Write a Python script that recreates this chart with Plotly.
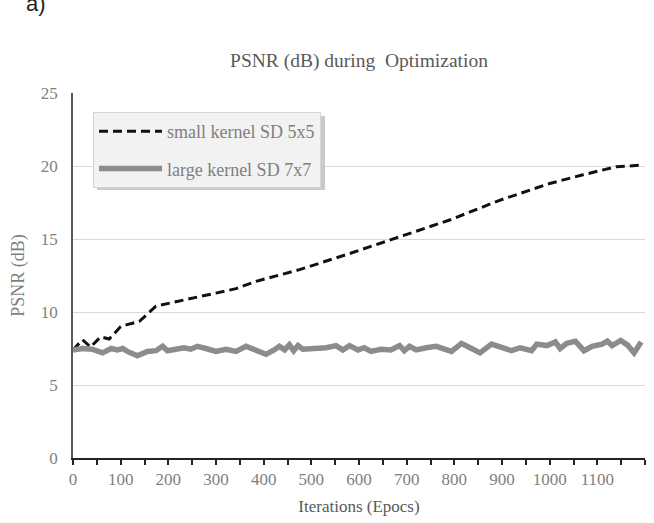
import plotly.graph_objects as go

# ---- data ----
small_x = [0, 20, 37, 58, 76, 100, 121, 139, 174, 216, 258, 300, 342, 384,
           475, 580, 685, 790, 895, 965, 1000, 1070, 1140, 1190]
small_y = [7.4, 8.1, 7.6, 8.3, 8.15, 9.0, 9.2, 9.35, 10.4, 10.7, 10.95, 11.3, 11.6, 12.1,
           12.9, 14.0, 15.15, 16.3, 17.65, 18.45, 18.8, 19.4, 19.95, 20.05]

large_x = [0, 20, 40, 62, 80, 93, 104, 114, 135, 156, 174, 188, 198, 216, 233, 247,
           261, 279, 300, 321, 342, 363, 384, 405, 422, 433, 444, 454, 463, 472,
           482, 503, 531, 552, 566, 580, 598, 611, 625, 646, 667, 685, 695, 706,
           720, 741, 762, 794, 815, 833, 854, 878, 899, 920, 938, 962, 973, 994,
           1012, 1022, 1036, 1054, 1072, 1089, 1110, 1121, 1131, 1149, 1163, 1177, 1192]
large_y = [7.4, 7.5, 7.45, 7.2, 7.5, 7.4, 7.5, 7.3, 7.0, 7.3, 7.35, 7.65, 7.35, 7.45, 7.55, 7.45,
           7.65, 7.5, 7.3, 7.45, 7.3, 7.65, 7.4, 7.1, 7.4, 7.65, 7.4, 7.75, 7.35, 7.7,
           7.45, 7.5, 7.55, 7.7, 7.4, 7.7, 7.4, 7.55, 7.3, 7.45, 7.4, 7.7, 7.35, 7.65,
           7.4, 7.55, 7.65, 7.3, 7.85, 7.55, 7.2, 7.8, 7.55, 7.35, 7.55, 7.35, 7.8, 7.7,
           7.95, 7.5, 7.85, 8.0, 7.35, 7.65, 7.8, 8.0, 7.7, 8.05, 7.75, 7.2, 7.95]

x_ticks = list(range(0, 1101, 100))
x_minor = list(range(50, 1151, 100)) + [1200]
y_ticks = [0, 5, 10, 15, 20, 25]

SERIF = "Liberation Serif"
GRAY_TXT = "#7f7f7f"

fig = go.Figure()
fig.add_trace(go.Scatter(
    x=small_x, y=small_y, mode="lines", name="small kernel SD 5x5",
    line=dict(color="#111111", width=3, dash="9px,5px"), legendgroup="a"))
fig.add_trace(go.Scatter(
    x=large_x, y=large_y, mode="lines", name="large kernel SD 7x7",
    line=dict(color="#8c8c8c", width=5.5), legendgroup="b"))

# legend shadow
fig.add_shape(type="rect", xref="paper", yref="paper",
              x0=(97 - 73) / 572, x1=(325 - 73) / 572,
              y0=1 - (190 - 93) / 365, y1=1 - (116 - 93) / 365,
              fillcolor="#bdbdbd", line=dict(width=0), layer="above", opacity=0.8)

fig.update_layout(
    width=654, height=523,
    margin=dict(l=73, r=9, t=93, b=65),
    paper_bgcolor="white", plot_bgcolor="white",
    title=dict(text="PSNR (dB) during  Optimization", x=0.5, xref="paper",
               y=1 - 60 / 523, yanchor="middle",
               font=dict(family=SERIF, size=19.5, color="#595959")),
    showlegend=True,
    legend=dict(x=(93 - 73) / 572, y=1 - (112 - 93) / 365, xanchor="left", yanchor="top",
                bgcolor="#f2f2f2", bordercolor="#d6d6d6", borderwidth=1,
                font=dict(family=SERIF, size=18, color=GRAY_TXT),
                tracegroupgap=11, itemwidth=63),
    xaxis=dict(range=[0, 1200], tickvals=x_ticks, ticktext=[str(v) for v in x_ticks],
               showgrid=False, zeroline=False,
               showline=True, linecolor="#222222", linewidth=1.5,
               ticks="outside", ticklen=5, tickwidth=1.5, tickcolor="#222222",
               minor=dict(tickvals=x_minor, ticks="outside", ticklen=5,
                          tickwidth=1.5, tickcolor="#222222"),
               tickfont=dict(family=SERIF, size=17, color=GRAY_TXT),
               title=dict(text="Iterations (Epocs)", standoff=12,
                          font=dict(family=SERIF, size=17, color="#595959"))),
    yaxis=dict(range=[0, 25], tickvals=y_ticks, showgrid=True, gridcolor="#d9d9d9",
               gridwidth=1, zeroline=False,
               showline=True, linecolor="#595959", linewidth=1.5,
               ticks="", ticklabelstandoff=10,
               tickfont=dict(family=SERIF, size=17, color=GRAY_TXT),
               title=dict(text="PSNR (dB)", standoff=12,
                          font=dict(family=SERIF, size=18, color=GRAY_TXT))),
)

fig.add_annotation(text="a)", xref="paper", yref="paper", x=-0.085, y=1 + (93 - 18) / 365,
                   xanchor="left", yanchor="bottom", showarrow=False,
                   font=dict(family="Liberation Sans", size=22, color="#222222"))

fig.write_html("out.html")
